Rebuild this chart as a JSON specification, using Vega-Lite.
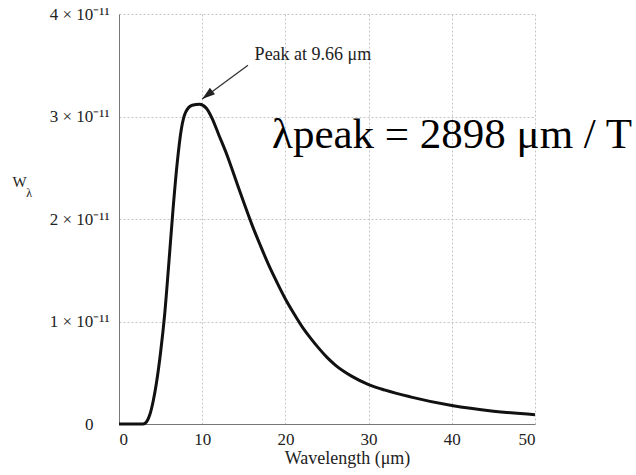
{
  "$schema": "https://vega.github.io/schema/vega-lite/v6.json",
  "autosize": "none",
  "width": 416,
  "height": 410,
  "padding": {"left": 119, "top": 14, "right": 101, "bottom": 51},
  "background": "white",
  "config": {
    "view": {"stroke": null},
    "font": "Liberation Serif",
    "axis": {
      "labelFont": "Liberation Serif",
      "titleFont": "Liberation Serif",
      "labelColor": "#222",
      "titleColor": "#222",
      "labelFontSize": 17,
      "titleFontSize": 18,
      "titleFontWeight": "normal",
      "gridColor": "#c4c4c4",
      "gridDash": [2, 2],
      "gridWidth": 1,
      "domainColor": "#777",
      "ticks": false
    }
  },
  "datasets": {
    "curve": [
      {"wavelength": 0, "W": 0},
      {"wavelength": 2.9, "W": 0},
      {"wavelength": 3.3, "W": 0.02e-11},
      {"wavelength": 3.7, "W": 0.09e-11},
      {"wavelength": 4.1, "W": 0.22e-11},
      {"wavelength": 4.5, "W": 0.4e-11},
      {"wavelength": 5.0, "W": 0.7e-11},
      {"wavelength": 5.5, "W": 1.08e-11},
      {"wavelength": 6.0, "W": 1.58e-11},
      {"wavelength": 6.5, "W": 2.1e-11},
      {"wavelength": 7.0, "W": 2.55e-11},
      {"wavelength": 7.5, "W": 2.88e-11},
      {"wavelength": 8.0, "W": 3.04e-11},
      {"wavelength": 8.8, "W": 3.11e-11},
      {"wavelength": 9.7, "W": 3.12e-11},
      {"wavelength": 10.5, "W": 3.08e-11},
      {"wavelength": 11.2, "W": 2.98e-11},
      {"wavelength": 12, "W": 2.82e-11},
      {"wavelength": 13, "W": 2.62e-11},
      {"wavelength": 14, "W": 2.39e-11},
      {"wavelength": 15, "W": 2.16e-11},
      {"wavelength": 16, "W": 1.94e-11},
      {"wavelength": 17, "W": 1.74e-11},
      {"wavelength": 18, "W": 1.55e-11},
      {"wavelength": 19, "W": 1.38e-11},
      {"wavelength": 20, "W": 1.22e-11},
      {"wavelength": 21, "W": 1.08e-11},
      {"wavelength": 22, "W": 0.95e-11},
      {"wavelength": 23, "W": 0.84e-11},
      {"wavelength": 24, "W": 0.74e-11},
      {"wavelength": 25, "W": 0.65e-11},
      {"wavelength": 26, "W": 0.575e-11},
      {"wavelength": 28, "W": 0.465e-11},
      {"wavelength": 30, "W": 0.385e-11},
      {"wavelength": 32, "W": 0.33e-11},
      {"wavelength": 35, "W": 0.265e-11},
      {"wavelength": 40, "W": 0.18e-11},
      {"wavelength": 45, "W": 0.125e-11},
      {"wavelength": 50, "W": 0.09e-11}
    ],
    "arrow": [
      {"x1": 15.5, "y1": 3.5e-11, "x2": 10.0, "y2": 3.17e-11}
    ],
    "notes": [
      {"x": 16.3, "y": 3.55e-11, "text": "Peak at 9.66 μm", "kind": "peak"},
      {"x": 18.4, "y": 2.69e-11, "text": "λpeak = 2898 μm / T", "kind": "formula"}
    ],
    "ylabel": [
      {"x": -12.8, "y": 2.31e-11, "text": "W"},
      {"x": -11.15, "y": 2.21e-11, "text": "λ"}
    ]
  },
  "layer": [
    {
      "data": {"name": "curve"},
      "mark": {"type": "line", "color": "#111", "strokeWidth": 3, "interpolate": "monotone"},
      "encoding": {
        "x": {
          "field": "wavelength", "type": "quantitative",
          "scale": {"domain": [0, 50], "nice": false},
          "axis": {"values": [0, 10, 20, 30, 40, 50], "title": "Wavelength (μm)", "labelPadding": 7, "titlePadding": 2, "titleX": 228, "titleAlign": "center", "grid": true}
        },
        "y": {
          "field": "W", "type": "quantitative",
          "scale": {"domain": [0, 4e-11], "nice": false},
          "axis": {
            "values": [0, 1e-11, 2e-11, 3e-11, 4e-11],
            "title": null,
            "labelPadding": {"condition": {"test": "datum.value == 0", "value": 26}, "value": 10},
            "grid": true,
            "labelExpr": "datum.value == 0 ? '0' : format(datum.value * 1e11, 'd') + ' × 10⁻¹¹'"
          }
        }
      }
    },
    {
      "data": {"name": "arrow"},
      "mark": {"type": "rule", "color": "#333", "strokeWidth": 1.3},
      "encoding": {
        "x": {"field": "x1", "type": "quantitative"},
        "y": {"field": "y1", "type": "quantitative"},
        "x2": {"field": "x2"},
        "y2": {"field": "y2"}
      }
    },
    {
      "data": {"name": "arrow"},
      "mark": {"type": "point", "filled": true, "color": "#222", "opacity": 1, "shape": "M0,0L0.32,1L-0.32,1Z", "size": 676, "angle": 232},
      "encoding": {
        "x": {"field": "x2", "type": "quantitative"},
        "y": {"field": "y2", "type": "quantitative"}
      }
    },
    {
      "data": {"name": "notes"},
      "transform": [{"filter": "datum.kind == 'peak'"}],
      "mark": {"type": "text", "align": "left", "baseline": "alphabetic", "fontSize": 18, "font": "Liberation Serif", "color": "#222"},
      "encoding": {
        "x": {"field": "x", "type": "quantitative"},
        "y": {"field": "y", "type": "quantitative"},
        "text": {"field": "text"}
      }
    },
    {
      "data": {"name": "notes"},
      "transform": [{"filter": "datum.kind == 'formula'"}],
      "mark": {"type": "text", "align": "left", "baseline": "alphabetic", "fontSize": 43, "font": "Liberation Serif", "color": "#000"},
      "encoding": {
        "x": {"field": "x", "type": "quantitative"},
        "y": {"field": "y", "type": "quantitative"},
        "text": {"field": "text"}
      }
    },
    {
      "data": {"name": "ylabel"},
      "mark": {"type": "text", "align": "left", "baseline": "alphabetic", "font": "Liberation Serif", "color": "#222"},
      "encoding": {
        "x": {"field": "x", "type": "quantitative"},
        "y": {"field": "y", "type": "quantitative"},
        "text": {"field": "text"},
        "size": {"condition": {"test": "datum.text == 'W'", "value": 15}, "value": 12}
      }
    }
  ]
}
